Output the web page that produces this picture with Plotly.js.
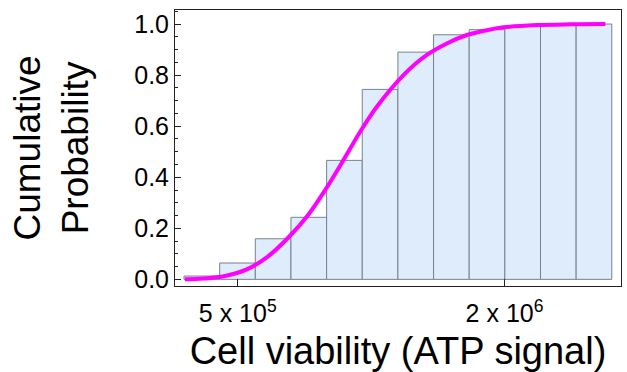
<!DOCTYPE html>
<html>
<head>
<meta charset="utf-8">
<script src="https://cdn.plot.ly/plotly-3.0.1.min.js"></script>
<style>html,body{margin:0;padding:0;background:#fff;}#chart{width:627px;height:372px;}</style>
</head>
<body>
<div id="chart"></div>
<script>
// Histogram bin edges (ATP signal) and cumulative probabilities
const binEdges = [378200, 455200, 547800, 659300, 793500, 955000, 1149300, 1383200, 1664700, 2003500, 2411200, 2901900, 3492400];
const cumProb = [0.013, 0.064, 0.159, 0.243, 0.466, 0.744, 0.890, 0.958, 0.978, 0.993, 0.999, 1.0];
// Fitted cumulative distribution curve
const curveX = [380000, 418000, 468000, 524000, 581500, 650600, 715600, 787400, 865900, 944600, 1030000, 1183000, 1336000, 1482000, 1645000, 1825000, 1990000, 2367000, 2815000, 3378000];
const curveY = [0.0, 0.003, 0.013, 0.039, 0.086, 0.164, 0.245, 0.350, 0.467, 0.578, 0.676, 0.800, 0.879, 0.924, 0.957, 0.976, 0.987, 0.996, 0.999, 1.0];
// Tick labels
const xTickVals = [5e5, 2e6];
const xTickText = ['5 x 10<sup>5</sup>', '2 x 10<sup>6</sup>'];
const yTickVals = [0, 0.2, 0.4, 0.6, 0.8, 1.0];

const lg = v => Math.log10(v);
const barLeft = binEdges.slice(0, -1).map(lg);
const barWidth = binEdges.slice(1).map((e, i) => lg(e) - lg(binEdges[i]));

const traces = [
  {
    type: 'bar',
    x: barLeft,
    y: cumProb,
    width: barWidth,
    offset: 0,
    marker: {color: 'rgb(222,236,251)', line: {color: 'rgb(120,130,140)', width: 1}},
    hoverinfo: 'skip'
  },
  {
    type: 'scatter',
    mode: 'lines',
    x: curveX.map(lg),
    y: curveY,
    line: {color: '#ff00ff', width: 4, shape: 'spline'},
    hoverinfo: 'skip'
  }
];

const font = 'Liberation Sans, Arial, Helvetica, sans-serif';
const layout = {
  width: 627, height: 372,
  margin: {l: 175, r: 6, t: 10, b: 86},
  paper_bgcolor: '#fff', plot_bgcolor: '#fff',
  showlegend: false,
  bargap: 0,
  font: {family: font, color: '#000'},
  xaxis: {
    type: 'linear',
    range: [5.5574, 6.5639],
    tickvals: xTickVals.map(lg),
    ticktext: xTickText,
    ticks: 'inside', ticklen: 7, tickwidth: 1, tickcolor: '#222',
    ticklabelstandoff: 5,
    showline: true, linecolor: '#222', linewidth: 1, mirror: true,
    showgrid: false, zeroline: false,
    tickfont: {size: 25, family: font},
    title: {text: 'Cell viability (ATP signal)', font: {size: 38, family: font}, standoff: 12}
  },
  yaxis: {
    range: [-0.026, 1.055],
    tickvals: yTickVals,
    tickformat: '.1f',
    ticks: 'inside', ticklen: 6, tickwidth: 1, tickcolor: '#222',
    minor: {dtick: 0.05, tick0: 0, ticks: 'inside', ticklen: 3, tickcolor: '#222', showgrid: false},
    showline: true, linecolor: '#222', linewidth: 1, mirror: true,
    showgrid: false, zeroline: false,
    tickfont: {size: 25, family: font},
    title: {text: 'Cumulative<br>Probability', font: {size: 37, family: font}, standoff: 34}
  }
};

Plotly.newPlot('chart', traces, layout, {displayModeBar: false, staticPlot: true});
</script>
</body>
</html>
